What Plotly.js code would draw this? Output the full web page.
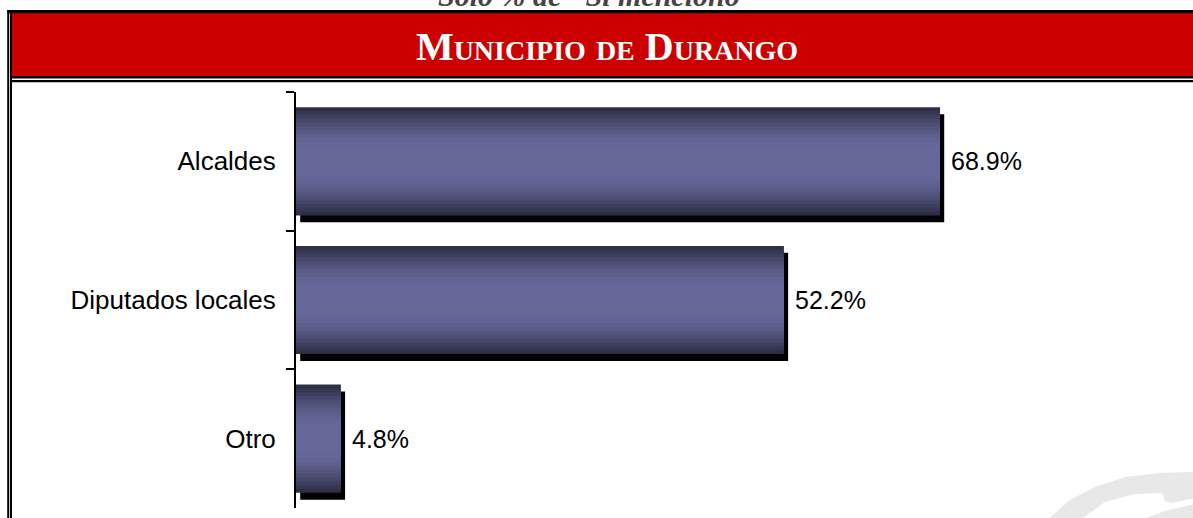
<!DOCTYPE html>
<html>
<head>
<meta charset="utf-8">
<script src="https://cdn.plot.ly/plotly-3.0.1.min.js"></script>
<style>html,body{margin:0;padding:0;background:#fff;}#chart{width:1193px;height:518px;}</style>
</head>
<body>
<div id="chart"></div>
<script>
// ---- data ----
const categories = ['Alcaldes', 'Diputados locales', 'Otro'];
const values = [68.9, 52.2, 4.8];
const chartTitle = 'Municipio de Durango';
const topNote = 'Sólo % de "Sí mencionó"';

// ---- geometry helpers (decoration only) ----
const W = 1193, H = 518;
const M = {l: 296, r: 0, t: 92, b: 10};
const PW = W - M.l - M.r, PH = H - M.t - M.b;
const px = x => (x - M.l) / PW;
const py = y => (H - M.b - y) / PH;

// ---- bar traces: shadow + layered gradient ----
const barW = 0.78;
const traces = [];
traces.push({
  type: 'bar', orientation: 'h', y: categories, x: values,
  base: 0.45, width: barW, offset: -barW / 2 + 0.05,
  marker: {color: '#000000', line: {width: 0}},
  hoverinfo: 'skip', showlegend: false
});
const dark = [47, 47, 70], light = [102, 104, 154];
const N = 12;
for (let i = 0; i < N; i++) {
  const t = i / (N - 1);
  const e = Math.sin(t * Math.PI / 2);
  const c = dark.map((d, k) => Math.round(d + (light[k] - d) * e));
  const w = barW * (1 - i / N * 0.85);
  traces.push({
    type: 'bar', orientation: 'h', y: categories, x: values,
    width: w, offset: -w / 2,
    marker: {color: `rgb(${c[0]},${c[1]},${c[2]})`, line: {width: 0}},
    hoverinfo: 'skip', showlegend: false
  });
}

// ---- value labels ----
const annotations = values.map((v, i) => ({
  x: v, y: categories[i], xref: 'x', yref: 'y',
  text: v.toFixed(1) + '%', showarrow: false,
  xanchor: 'left', yanchor: 'middle', xshift: 9,
  font: {family: 'Liberation Sans, Arial, sans-serif', size: 25, color: '#000'}
}));
annotations.push({
  xref: 'paper', yref: 'paper', x: px(597), y: py(14),
  xanchor: 'center', yanchor: 'bottom', showarrow: false,
  text: topNote,
  font: {family: 'Liberation Serif, Times New Roman, serif', size: 30, color: '#444', style: 'italic', weight: 'bold'}
});

// ---- decorative frame ----
const shapes = [];
const line = (x0, y0, x1, y1, w, col) => shapes.push({
  type: 'line', xref: 'paper', yref: 'paper', x0: px(x0), y0: py(y0), x1: px(x1), y1: py(y1),
  line: {color: col || '#000', width: w}, layer: 'above'
});
const rect = (x0, y0, x1, y1, fill) => shapes.push({
  type: 'rect', xref: 'paper', yref: 'paper', x0: px(x0), y0: py(y0), x1: px(x1), y1: py(y1),
  fillcolor: fill, line: {width: 0}, layer: 'below'
});
const poly = (pts, fill) => shapes.push({
  type: 'path', xref: 'paper', yref: 'paper', layer: 'below',
  path: 'M' + pts.map(p => px(p[0]) + ',' + py(p[1])).join(' L') + ' Z',
  fillcolor: fill, line: {width: 0}
});
// watermark (logo fragment)
poly([[1047,520],[1070,500],[1095,487],[1125,477],[1160,473],[1195,472],[1195,498],[1172,503],[1165,501],[1162,493],[1135,494],[1105,502],[1080,520]], '#e8e8e8');
poly([[1140,520],[1165,511],[1195,504],[1195,520]], '#e8e8e8');
rect(12, 13, 1200, 76.5, '#cc0000');
rect(7.5, 10, 1200, 13.3, '#000000');
line(8.2, 10, 8.2, 520, 2);
line(11, 10, 11, 520, 2);
line(10, 77.2, 1200, 77.2, 2.4);
line(10, 81.2, 1200, 81.2, 2.2);

const layout = {
  width: W, height: H,
  margin: M,
  paper_bgcolor: '#ffffff', plot_bgcolor: 'rgba(0,0,0,0)',
  barmode: 'overlay',
  showlegend: false,
  title: {
    text: chartTitle, xref: 'container', yref: 'container',
    x: 607 / W, xanchor: 'center', y: 1 - 46 / H, yanchor: 'middle',
    font: {family: 'Liberation Serif, Times New Roman, serif', size: 40, color: '#ffffff', weight: 'bold', variant: 'small-caps'}
  },
  xaxis: {range: [0, PW / (644 / 68.9)], visible: false, fixedrange: true},
  yaxis: {
    type: 'category', range: [2.5, -0.5], autorange: false,
    showline: true, linecolor: '#000', linewidth: 2,
    ticks: 'outside', ticklen: 8, tickwidth: 2, tickcolor: '#000',
    tickson: 'boundaries', ticklabelstandoff: 13,
    showgrid: false, zeroline: false,
    tickfont: {family: 'Liberation Sans, Arial, sans-serif', size: 26, color: '#000'}
  },
  annotations: annotations,
  shapes: shapes
};

Plotly.newPlot('chart', traces, layout, {displayModeBar: false, staticPlot: true});
</script>
</body>
</html>
